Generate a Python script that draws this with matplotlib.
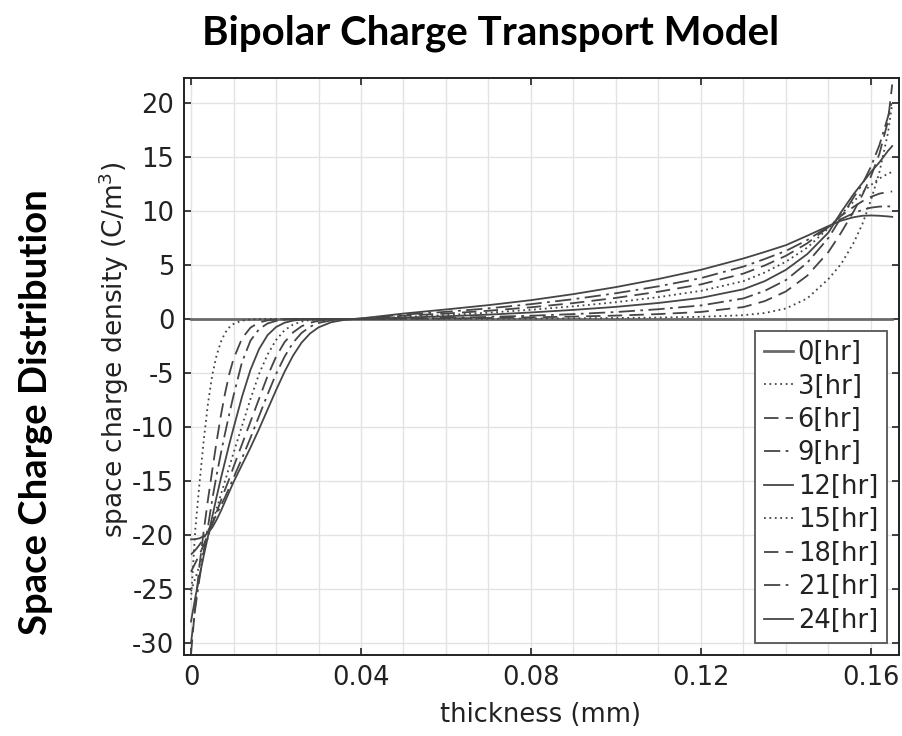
import matplotlib
matplotlib.use("Agg")
import matplotlib.pyplot as plt
from matplotlib.ticker import MultipleLocator, FixedLocator, FixedFormatter

plt.rcParams["axes.unicode_minus"] = False
plt.rcParams["font.family"] = ["DejaVu Sans"]

# thickness positions (mm)
thickness = [0.000, 0.001, 0.002, 0.003, 0.004, 0.005, 0.006, 0.007, 0.008, 0.009,
             0.010, 0.012, 0.014, 0.016, 0.018, 0.020, 0.022, 0.024, 0.026, 0.028,
             0.030, 0.033, 0.036,
             0.040, 0.050, 0.060, 0.070, 0.080, 0.090, 0.100, 0.110, 0.120, 0.130,
             0.135, 0.140, 0.145, 0.150, 0.153, 0.156, 0.158, 0.160, 0.162, 0.164,
             0.165]

# space charge density (C/m^3) at each time step
rho_0h = [0.0] * 44
rho_3h = [-26.0, -19.5, -15.2, -11.2, -7.8, -5.2, -3.4, -2.15, -1.3, -0.78,
          -0.46, -0.15, -0.05, -0.015, 0.0, 0.0, 0.0, 0.0, 0.0, 0.0,
          0.0, 0.0, 0.0,
          0.0, 0.0, 0.01, 0.02, 0.04, 0.06, 0.09, 0.13, 0.2, 0.35,
          0.55, 0.97, 1.9, 3.7, 5.1, 7.1, 8.8, 11.0, 13.6, 17.2,
          19.9]
rho_6h = [-31.0, -26.5, -22.8, -19.6, -16.7, -14.0, -11.4, -9.0, -6.9, -5.1,
          -3.7, -1.8, -0.8, -0.33, -0.13, -0.05, -0.02, 0.0, 0.0, 0.0,
          0.0, 0.0, 0.0,
          0.0, 0.02, 0.05, 0.09, 0.15, 0.22, 0.31, 0.45, 0.65, 1.1,
          1.65, 2.55, 4.0, 6.2, 8.0, 10.0, 11.5, 13.2, 15.3, 18.3,
          21.7]
rho_9h = [-30.0, -26.8, -24.0, -21.5, -19.2, -16.7, -14.5, -12.5, -10.6, -8.8,
          -7.1, -4.0, -2.0, -0.95, -0.42, -0.18, -0.07, -0.03, -0.01, 0.0,
          0.0, 0.0, 0.0,
          0.0, 0.05, 0.10, 0.19, 0.30, 0.45, 0.64, 0.9, 1.25, 1.9,
          2.6, 3.6, 5.2, 7.5, 9.4, 11.3, 12.5, 14.1, 16.1, 18.7,
          20.2]
rho_12h = [-28.0, -25.8, -23.8, -21.9, -20.1, -18.3, -16.5, -14.8, -13.2, -11.6,
           -10.1, -7.2, -4.7, -2.8, -1.5, -0.75, -0.35, -0.15, -0.06, -0.02,
           0.0, 0.0, 0.0,
           0.0, 0.12, 0.25, 0.40, 0.60, 0.84, 1.12, 1.48, 1.95, 2.75,
           3.5, 4.55, 6.0, 8.0, 9.9, 11.6, 12.6, 13.6, 14.5, 15.55,
           16.0]
rho_15h = [-25.2, -24.0, -22.8, -21.5, -20.2, -18.9, -17.6, -16.3, -15.0, -13.7,
           -12.4, -9.9, -7.4, -5.1, -3.3, -1.95, -1.05, -0.52, -0.24, -0.10,
           -0.04, -0.01, 0.0,
           0.01, 0.18, 0.36, 0.58, 0.85, 1.17, 1.55, 2.02, 2.6, 3.5,
           4.3, 5.3, 6.6, 8.4, 9.7, 10.9, 11.7, 12.4, 13.0, 13.45,
           13.6]
rho_18h = [-23.4, -22.6, -21.8, -20.9, -20.0, -19.0, -17.9, -16.85, -15.8, -14.8,
           -13.7, -11.6, -9.5, -7.4, -5.3, -3.5, -2.15, -1.25, -0.68, -0.35,
           -0.17, -0.06, -0.02,
           0.02, 0.30, 0.50, 0.76, 1.08, 1.47, 1.95, 2.52, 3.2, 4.2,
           4.95, 5.85, 7.0, 8.5, 9.55, 10.4, 10.9, 11.3, 11.6, 11.75,
           11.8]
rho_21h = [-21.8, -21.4, -20.9, -20.3, -19.6, -18.9, -18.1, -17.3, -16.5, -15.6,
           -14.7, -12.9, -11.0, -9.0, -7.0, -5.1, -3.5, -2.2, -1.3, -0.72,
           -0.37, -0.13, -0.04,
           0.03, 0.40, 0.66, 0.98, 1.37, 1.83, 2.38, 3.02, 3.78, 4.85,
           5.55, 6.3, 7.3, 8.55, 9.25, 9.8, 10.1, 10.3, 10.4, 10.42,
           10.4]
rho_24h = [-20.4, -20.38, -20.3, -20.1, -19.8, -19.3, -18.6, -17.8, -16.9, -16.0,
           -15.1, -13.5, -11.9, -10.2, -8.4, -6.6, -4.9, -3.4, -2.2, -1.35,
           -0.78, -0.3, -0.09,
           0.05, 0.50, 0.88, 1.28, 1.74, 2.3, 2.95, 3.7, 4.55, 5.6,
           6.2, 6.83, 7.7, 8.6, 9.1, 9.42, 9.55, 9.58, 9.55, 9.49,
           9.45]

series_labels = ["0[hr]", "3[hr]", "6[hr]", "9[hr]", "12[hr]", "15[hr]",
                 "18[hr]", "21[hr]", "24[hr]"]
series_values = [rho_0h, rho_3h, rho_6h, rho_9h, rho_12h, rho_15h,
                 rho_18h, rho_21h, rho_24h]

x_ticks = [0, 0.04, 0.08, 0.12, 0.16]
x_tick_labels = ["0", "0.04", "0.08", "0.12", "0.16"]
y_ticks = [-30, -25, -20, -15, -10, -5, 0, 5, 10, 15, 20]
y_tick_labels = ["-30", "-25", "-20", "-15", "-10", "-5", "0", "5", "10", "15", "20"]

# solid, dotted, dashed, dash-dot repeating through the time steps
styles = ["-", (0, (1, 2)), (0, (8, 4)), (0, (9, 3, 1.5, 3))]

fig = plt.figure(figsize=(9.02, 7.36), dpi=100)
ax = fig.add_axes([184 / 902, 81 / 736, 715 / 902, 577 / 736])

for i, (lab, vals) in enumerate(zip(series_labels, series_values)):
    if i == 0:
        ax.plot(thickness, vals, color="#6a6a6a", lw=2.0, ls="-", label=lab,
                zorder=3)
    else:
        ax.plot(thickness, vals, color="#454545", lw=1.3,
                ls=styles[i % 4], label=lab, zorder=3)

ax.set_xlim(-0.00165, 0.1666)
ax.set_ylim(-31.1, 22.3)

ax.xaxis.set_major_locator(FixedLocator(x_ticks))
ax.xaxis.set_major_formatter(FixedFormatter(x_tick_labels))
ax.xaxis.set_minor_locator(MultipleLocator(0.01))
ax.yaxis.set_major_locator(FixedLocator(y_ticks))
ax.yaxis.set_major_formatter(FixedFormatter(y_tick_labels))

ax.grid(True, which="both", axis="x", color="#e3e3e3", lw=1.0, zorder=0)
ax.grid(True, which="major", axis="y", color="#e3e3e3", lw=1.0, zorder=0)
ax.set_axisbelow(True)

ax.tick_params(which="major", direction="in", length=5, width=1.2,
               top=True, right=True, labelsize=18.5, pad=7, colors="#222222")
ax.tick_params(which="minor", length=0)
for sp in ax.spines.values():
    sp.set_linewidth(1.4)
    sp.set_color("#222222")

leg = ax.legend(loc="upper left", bbox_to_anchor=(0.799, 0.5615),
                fontsize=18.5, handlelength=1.1, handletextpad=0.2,
                labelspacing=0.29, borderpad=0.35, borderaxespad=0,
                fancybox=False, framealpha=1, edgecolor="#555555")
leg.get_frame().set_linewidth(1.3)
for t in leg.get_texts():
    t.set_color("#222222")

fig.text(540 / 902, 1 - 715 / 736, "thickness (mm)", fontsize=18.5,
         ha="center", va="center", color="#222222")
fig.text(114 / 902, 1 - 350 / 736, "space charge density (C/m$^3$)",
         fontsize=19, rotation=90, ha="center", va="center", color="#222222")

fig.text(491 / 902, 1 - 33 / 736, "Bipolar Charge Transport Model",
         fontsize=29, fontweight="bold", family=["Lato", "DejaVu Sans"],
         ha="center", va="center", color="black")
fig.text(36 / 902, 1 - 412 / 736, "Space Charge Distribution",
         fontsize=27.5, fontweight="bold", family=["Lato", "DejaVu Sans"],
         rotation=90, ha="center", va="center", color="black")

fig.savefig("out.png", dpi=100)
